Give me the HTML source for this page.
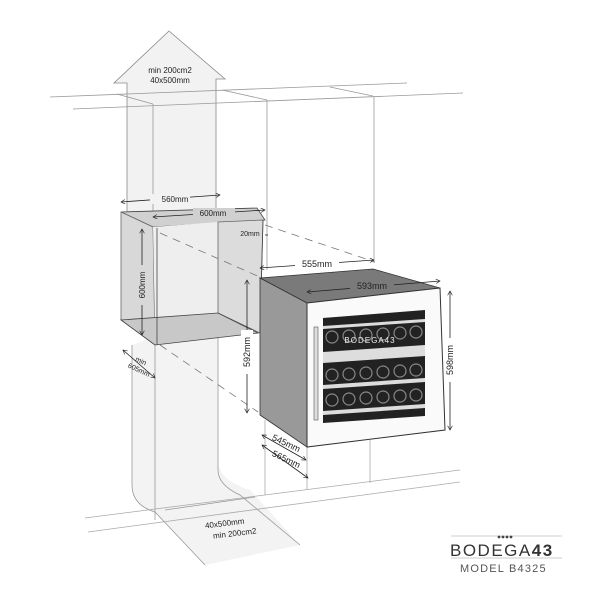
<!DOCTYPE html>
<html><head><meta charset="utf-8"><style>
html,body{margin:0;padding:0;background:#fff;}
svg{display:block;}
text{font-family:"Liberation Sans",sans-serif;fill:#222;}
</style></head><body>
<svg width="600" height="600" viewBox="0 0 600 600" xmlns="http://www.w3.org/2000/svg">
<defs>
<marker id="a" viewBox="0 0 10 10" refX="9" refY="5" markerWidth="6" markerHeight="6" orient="auto-start-reverse"><path d="M0,0 L9,5 L0,10" fill="none" stroke="#222" stroke-width="1.3"/></marker>
</defs>
<!-- upward arrow vent -->
<path d="M127,212 L127,83 L114,83 L169,31 L225,79 L216,79 L216,210 Z" fill="#f2f2f2" stroke="#888" stroke-width="0.8"/>
<text x="170" y="73" font-size="8" text-anchor="middle">min 200cm2</text>
<text x="170" y="83" font-size="8" text-anchor="middle">40x500mm</text>
<!-- ceiling lines -->
<g stroke="#999" stroke-width="0.8" fill="none">
<line x1="50" y1="97" x2="407" y2="83"/>
<line x1="73" y1="109" x2="463" y2="93"/>
<line x1="117" y1="94" x2="153" y2="104"/>
<line x1="222" y1="90" x2="267" y2="100"/>
<line x1="330" y1="87" x2="373" y2="96"/>
<line x1="153" y1="104" x2="153" y2="227"/>
<line x1="267" y1="100" x2="267" y2="270"/>
<line x1="374" y1="97" x2="374" y2="263"/>
</g>
<!-- lower column -->
<path d="M132,345 L132,485 Q132,505 155,512 L205,565 L300,545 L250,490 Q218,480 218,460 L218,313 Z" fill="#f3f3f3" stroke="none"/>
<path d="M132,345 L132,485 Q132,505 155,512 L205,565" fill="none" stroke="#999" stroke-width="0.8"/>
<path d="M218,313 L218,470 Q218,485 240,495 L300,545" fill="none" stroke="#999" stroke-width="0.8"/>
<line x1="155" y1="345" x2="155" y2="520" stroke="#999" stroke-width="0.8"/>
<line x1="165" y1="510" x2="255" y2="497" stroke="#999" stroke-width="0.8"/>
<g stroke="#aaa" stroke-width="0.8">
<line x1="85" y1="518" x2="460" y2="470"/>
<line x1="88" y1="532" x2="460" y2="482"/>
<line x1="307" y1="447" x2="307" y2="490"/>
<line x1="370" y1="440" x2="370" y2="483"/>
<line x1="265" y1="420" x2="265" y2="495"/>
</g>
<text x="225" y="526" font-size="8" text-anchor="middle" transform="rotate(-7 225 526)">40x500mm</text>
<text x="235" y="536" font-size="8" text-anchor="middle" transform="rotate(-7 235 536)">min 200cm2</text>
<!-- niche -->
<polygon points="121,212 257,208 265,220 153,227" fill="#d0d0d0" stroke="#444" stroke-width="0.8"/>
<polygon points="121,212 153,227 155,345 121,320" fill="#d8d8d8" stroke="#666" stroke-width="0.8"/>
<polygon points="153,227 218,222 218,313 155,330" fill="#eeeeee" stroke="none"/>
<polygon points="218,222 263,220 260,333 218,313" fill="#dcdcdc" stroke="#666" stroke-width="0.8"/>
<polygon points="121,320 218,313 258,333 155,345" fill="#c8c8c8" stroke="#444" stroke-width="0.8"/>
<line x1="157" y1="228" x2="157" y2="345" stroke="#444" stroke-width="0.8"/>
<line x1="263" y1="220" x2="260" y2="333" stroke="#444" stroke-width="0.8"/>
<!-- dashed lines -->
<g stroke="#777" stroke-width="0.8" stroke-dasharray="8,6" fill="none">
<line x1="160" y1="233" x2="262" y2="278"/>
<line x1="265" y1="225" x2="375" y2="262"/>
<line x1="160" y1="345" x2="258" y2="412"/>
</g>
<!-- fridge -->
<polygon points="260,278 373,269 440,288 307,303" fill="#7a7a7a" stroke="#333" stroke-width="0.8"/>
<polygon points="260,278 307,303 307,447 260,415" fill="#999" stroke="#333" stroke-width="0.8"/>
<polygon points="307,303 440,288 445,430 307,447" fill="#fafafa" stroke="#333" stroke-width="1"/>
<polygon points="323,318 425,310 425,416 323,423" fill="#222"/>
<g fill="none" stroke="#888" stroke-width="1.2">
<circle cx="332" cy="375" r="6"/><circle cx="349" cy="374" r="6"/><circle cx="366" cy="373" r="6"/><circle cx="383" cy="372" r="6"/><circle cx="400" cy="371" r="6"/><circle cx="416" cy="370" r="6"/>
<circle cx="332" cy="400" r="6"/><circle cx="349" cy="399" r="6"/><circle cx="366" cy="398" r="6"/><circle cx="383" cy="397" r="6"/><circle cx="400" cy="396" r="6"/><circle cx="416" cy="395" r="6"/>
<circle cx="332" cy="337" r="6"/><circle cx="349" cy="336" r="6"/><circle cx="366" cy="335" r="6"/><circle cx="383" cy="334" r="6"/><circle cx="400" cy="333" r="6"/><circle cx="416" cy="332" r="6"/>
</g>
<g fill="#ddd">
<polygon points="323,326 425,319 425,322 323,329"/>
<polygon points="323,352 425,345 425,356 323,363"/>
<polygon points="323,385 425,378 425,382 323,389"/>
<polygon points="323,411 425,404 425,408 323,415"/>
</g>
<text x="370" y="343" font-size="8" fill="#eee" style="fill:#eee" text-anchor="middle" letter-spacing="1">BODEGA43</text>
<rect x="314" y="327" width="4" height="93" fill="#ddd" stroke="#555" stroke-width="0.6"/>
<!-- dimensions -->
<g stroke="#222" stroke-width="0.8" fill="none">
<line x1="121" y1="202" x2="220" y2="195" marker-start="url(#a)" marker-end="url(#a)"/>
<line x1="153" y1="217" x2="265" y2="210" marker-start="url(#a)" marker-end="url(#a)"/>
<line x1="142" y1="229" x2="142" y2="335" marker-start="url(#a)" marker-end="url(#a)"/>
<line x1="260" y1="268" x2="374" y2="260" marker-start="url(#a)" marker-end="url(#a)"/>
<line x1="307" y1="292" x2="440" y2="281" marker-start="url(#a)" marker-end="url(#a)"/>
<line x1="247" y1="280" x2="247" y2="413" marker-start="url(#a)" marker-end="url(#a)"/>
<line x1="450" y1="291" x2="450" y2="430" marker-start="url(#a)" marker-end="url(#a)"/>
<line x1="262" y1="435" x2="306" y2="460" marker-start="url(#a)" marker-end="url(#a)"/>
<line x1="262" y1="445" x2="308" y2="478" marker-start="url(#a)" marker-end="url(#a)"/>
<line x1="123" y1="350" x2="155" y2="378" marker-start="url(#a)" marker-end="url(#a)"/>
<line x1="265" y1="235" x2="268" y2="235"/>
</g>
<rect x="150" y="194" width="40" height="10" fill="#f2f2f2"/>
<text x="175" y="202" font-size="8" text-anchor="middle">560mm</text>
<rect x="193" y="208" width="42" height="10" fill="#d0d0d0"/>
<text x="213" y="216" font-size="8" text-anchor="middle">600mm</text>
<text x="250" y="236" font-size="7" text-anchor="middle">20mm</text>
<rect x="137" y="265" width="10" height="40" fill="#d8d8d8"/>
<text transform="translate(145,285) rotate(-90)" font-size="8" text-anchor="middle">600mm</text>
<rect x="295" y="257" width="44" height="12" fill="#fff"/>
<text x="317" y="267" font-size="9" text-anchor="middle">555mm</text>
<rect x="350" y="280" width="44" height="12" fill="#7a7a7a"/>
<text x="372" y="289" font-size="9" text-anchor="middle">593mm</text>
<rect x="241" y="330" width="12" height="44" fill="#fff"/>
<text transform="translate(250,352) rotate(-90)" font-size="9" text-anchor="middle">592mm</text>
<rect x="444" y="338" width="12" height="44" fill="#fff"/>
<text transform="translate(453,360) rotate(-90)" font-size="9" text-anchor="middle">598mm</text>
<text transform="translate(285,446) rotate(25)" font-size="9" text-anchor="middle">545mm</text>
<text transform="translate(285,462) rotate(25)" font-size="9" text-anchor="middle">565mm</text>
<text transform="translate(140,363) rotate(25)" font-size="7" text-anchor="middle">min</text>
<text transform="translate(138,372) rotate(25)" font-size="7" text-anchor="middle">605mm</text>
<!-- logo -->
<line x1="451" y1="536" x2="562" y2="536" stroke="#bbb" stroke-width="0.8"/>
<line x1="451" y1="558" x2="562" y2="558" stroke="#bbb" stroke-width="0.8"/>
<g fill="#444"><circle cx="499" cy="537" r="1.4"/><circle cx="503" cy="537" r="1.4"/><circle cx="507" cy="537" r="1.4"/><circle cx="511" cy="537" r="1.4"/></g>
<text x="450" y="556" font-size="17" letter-spacing="1.5" style="fill:#333">BODEGA<tspan font-weight="bold">43</tspan></text>
<text x="460" y="572" font-size="11" letter-spacing="1.2" style="fill:#555">MODEL B4325</text>
</svg>
</body></html>
